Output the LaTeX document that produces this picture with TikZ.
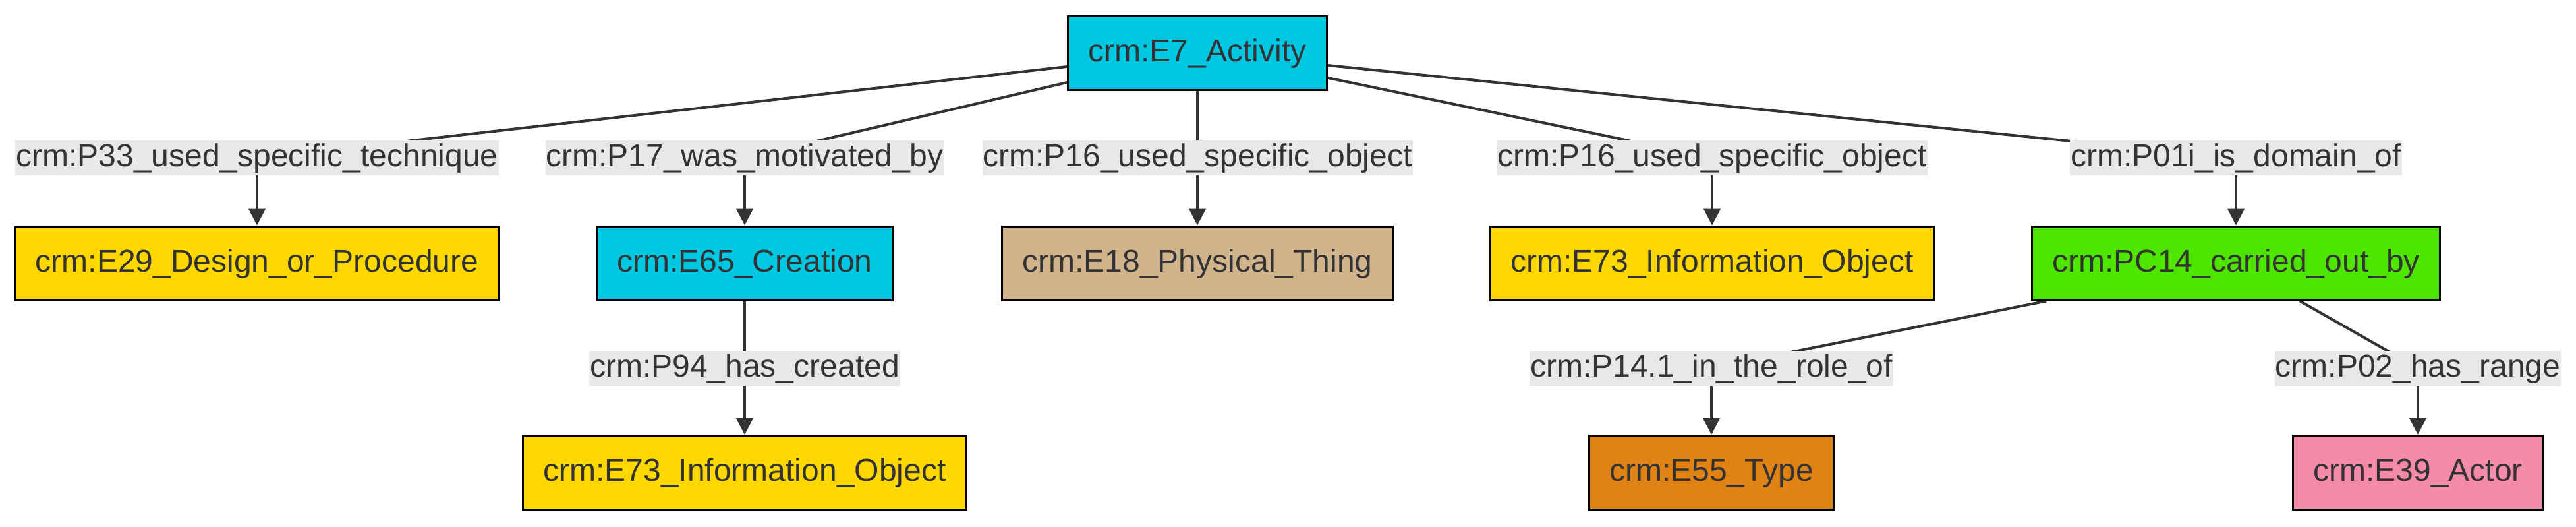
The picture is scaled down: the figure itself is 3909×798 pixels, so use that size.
\documentclass[tikz,border=0pt]{standalone}
\usepackage{fontspec}
\setmainfont{Liberation Sans}
\usetikzlibrary{arrows.meta,backgrounds,calc}
\definecolor{txt}{HTML}{333333}
\definecolor{edgec}{HTML}{333333}
\definecolor{lblbg}{HTML}{E8E8E8}
\definecolor{cyanE}{HTML}{00C8E3}
\definecolor{yellowE}{HTML}{FDD700}
\definecolor{tanE}{HTML}{D2B48C}
\definecolor{greenE}{HTML}{4EE600}
\definecolor{orangeE}{HTML}{E08314}
\definecolor{pinkE}{HTML}{F68AAA}
\tikzset{
  ent/.style={draw=black, line width=3pt, inner xsep=31pt, inner ysep=0pt,
    minimum height=112pt, text=txt, font=\fontsize{48}{58}\selectfont,
    text height=36pt, text depth=10pt},
  lbl/.style={fill=lblbg, inner xsep=1pt, inner ysep=0pt, minimum height=53pt,
    text=txt, font=\fontsize{48}{58}\selectfont, text height=36pt, text depth=10pt},
  edge/.style={draw=edgec, line width=4pt},
  arr/.style={edge, -{Triangle[length=25pt,width=25pt]}}
}
\begin{document}
\begin{tikzpicture}[x=1pt,y=-1pt]
\useasboundingbox (0,0) rectangle (3909,798);
% entity nodes
\node[ent, fill=cyanE]   (E7)   at (1817,80.5) {crm:E7\_Activity};
\node[ent, fill=yellowE] (E29)  at (390,399)   {crm:E29\_Design\_or\_Procedure};
\node[ent, fill=cyanE]   (E65)  at (1130,399)  {crm:E65\_Creation};
\node[ent, fill=tanE]    (E18)  at (1817,399)  {crm:E18\_Physical\_Thing};
\node[ent, fill=yellowE] (E73)  at (2598,399)  {crm:E73\_Information\_Object};
\node[ent, fill=greenE]  (PC14) at (3393,399)  {crm:PC14\_carried\_out\_by};
\node[ent, fill=yellowE] (E73b) at (1130,716.5) {crm:E73\_Information\_Object};
\node[ent, fill=orangeE] (E55)  at (2597,716.5) {crm:E55\_Type};
\node[ent, fill=pinkE]   (E39)  at (3669,716.5) {crm:E39\_Actor};
% edge labels
\node[lbl] (L33)  at (390,239.5)  {crm:P33\_used\_specific\_technique};
\node[lbl] (L17)  at (1130,239.5) {crm:P17\_was\_motivated\_by};
\node[lbl] (L16a) at (1817,239.5) {crm:P16\_used\_specific\_object};
\node[lbl] (L16b) at (2598,239.5) {crm:P16\_used\_specific\_object};
\node[lbl] (L01)  at (3393,239.5) {crm:P01i\_is\_domain\_of};
\node[lbl] (L94)  at (1130,558)   {crm:P94\_has\_created};
\node[lbl] (L141) at (2597,558)   {crm:P14.1\_in\_the\_role\_of};
\node[lbl] (L02)  at (3669,558)   {crm:P02\_has\_range};
% edge start points
\coordinate (s33) at ($(E7.west)+(0,20.5)$);
\coordinate (s17) at ($(E7.west)+(0,44.5)$);
\coordinate (s16b) at ($(E7.east)+(0,37.5)$);
\coordinate (s01) at ($(E7.east)+(0,18.5)$);
\coordinate (s141) at ($(PC14.south)+(-288,0)$);
\coordinate (s02) at ($(PC14.south)+(97,0)$);
\begin{scope}[on background layer]
\draw[edge] (s33) -- (L33.center);
\draw[arr] (L33.center) -- (E29.north);
\draw[edge] (s17) -- (L17.center);
\draw[arr] (L17.center) -- (E65.north);
\draw[edge] (E7.south) -- (L16a.center);
\draw[arr] (L16a.center) -- (E18.north);
\draw[edge] (s16b) -- (L16b.center);
\draw[arr] (L16b.center) -- (E73.north);
\draw[edge] (s01) -- (L01.center);
\draw[arr] (L01.center) -- (PC14.north);
\draw[edge] (E65.south) -- (L94.center);
\draw[arr] (L94.center) -- (E73b.north);
\draw[edge] (s141) -- (L141.center);
\draw[arr] (L141.center) -- (E55.north);
\draw[edge] (s02) -- (L02.center);
\draw[arr] (L02.center) -- (E39.north);
\end{scope}
\end{tikzpicture}
\end{document}
